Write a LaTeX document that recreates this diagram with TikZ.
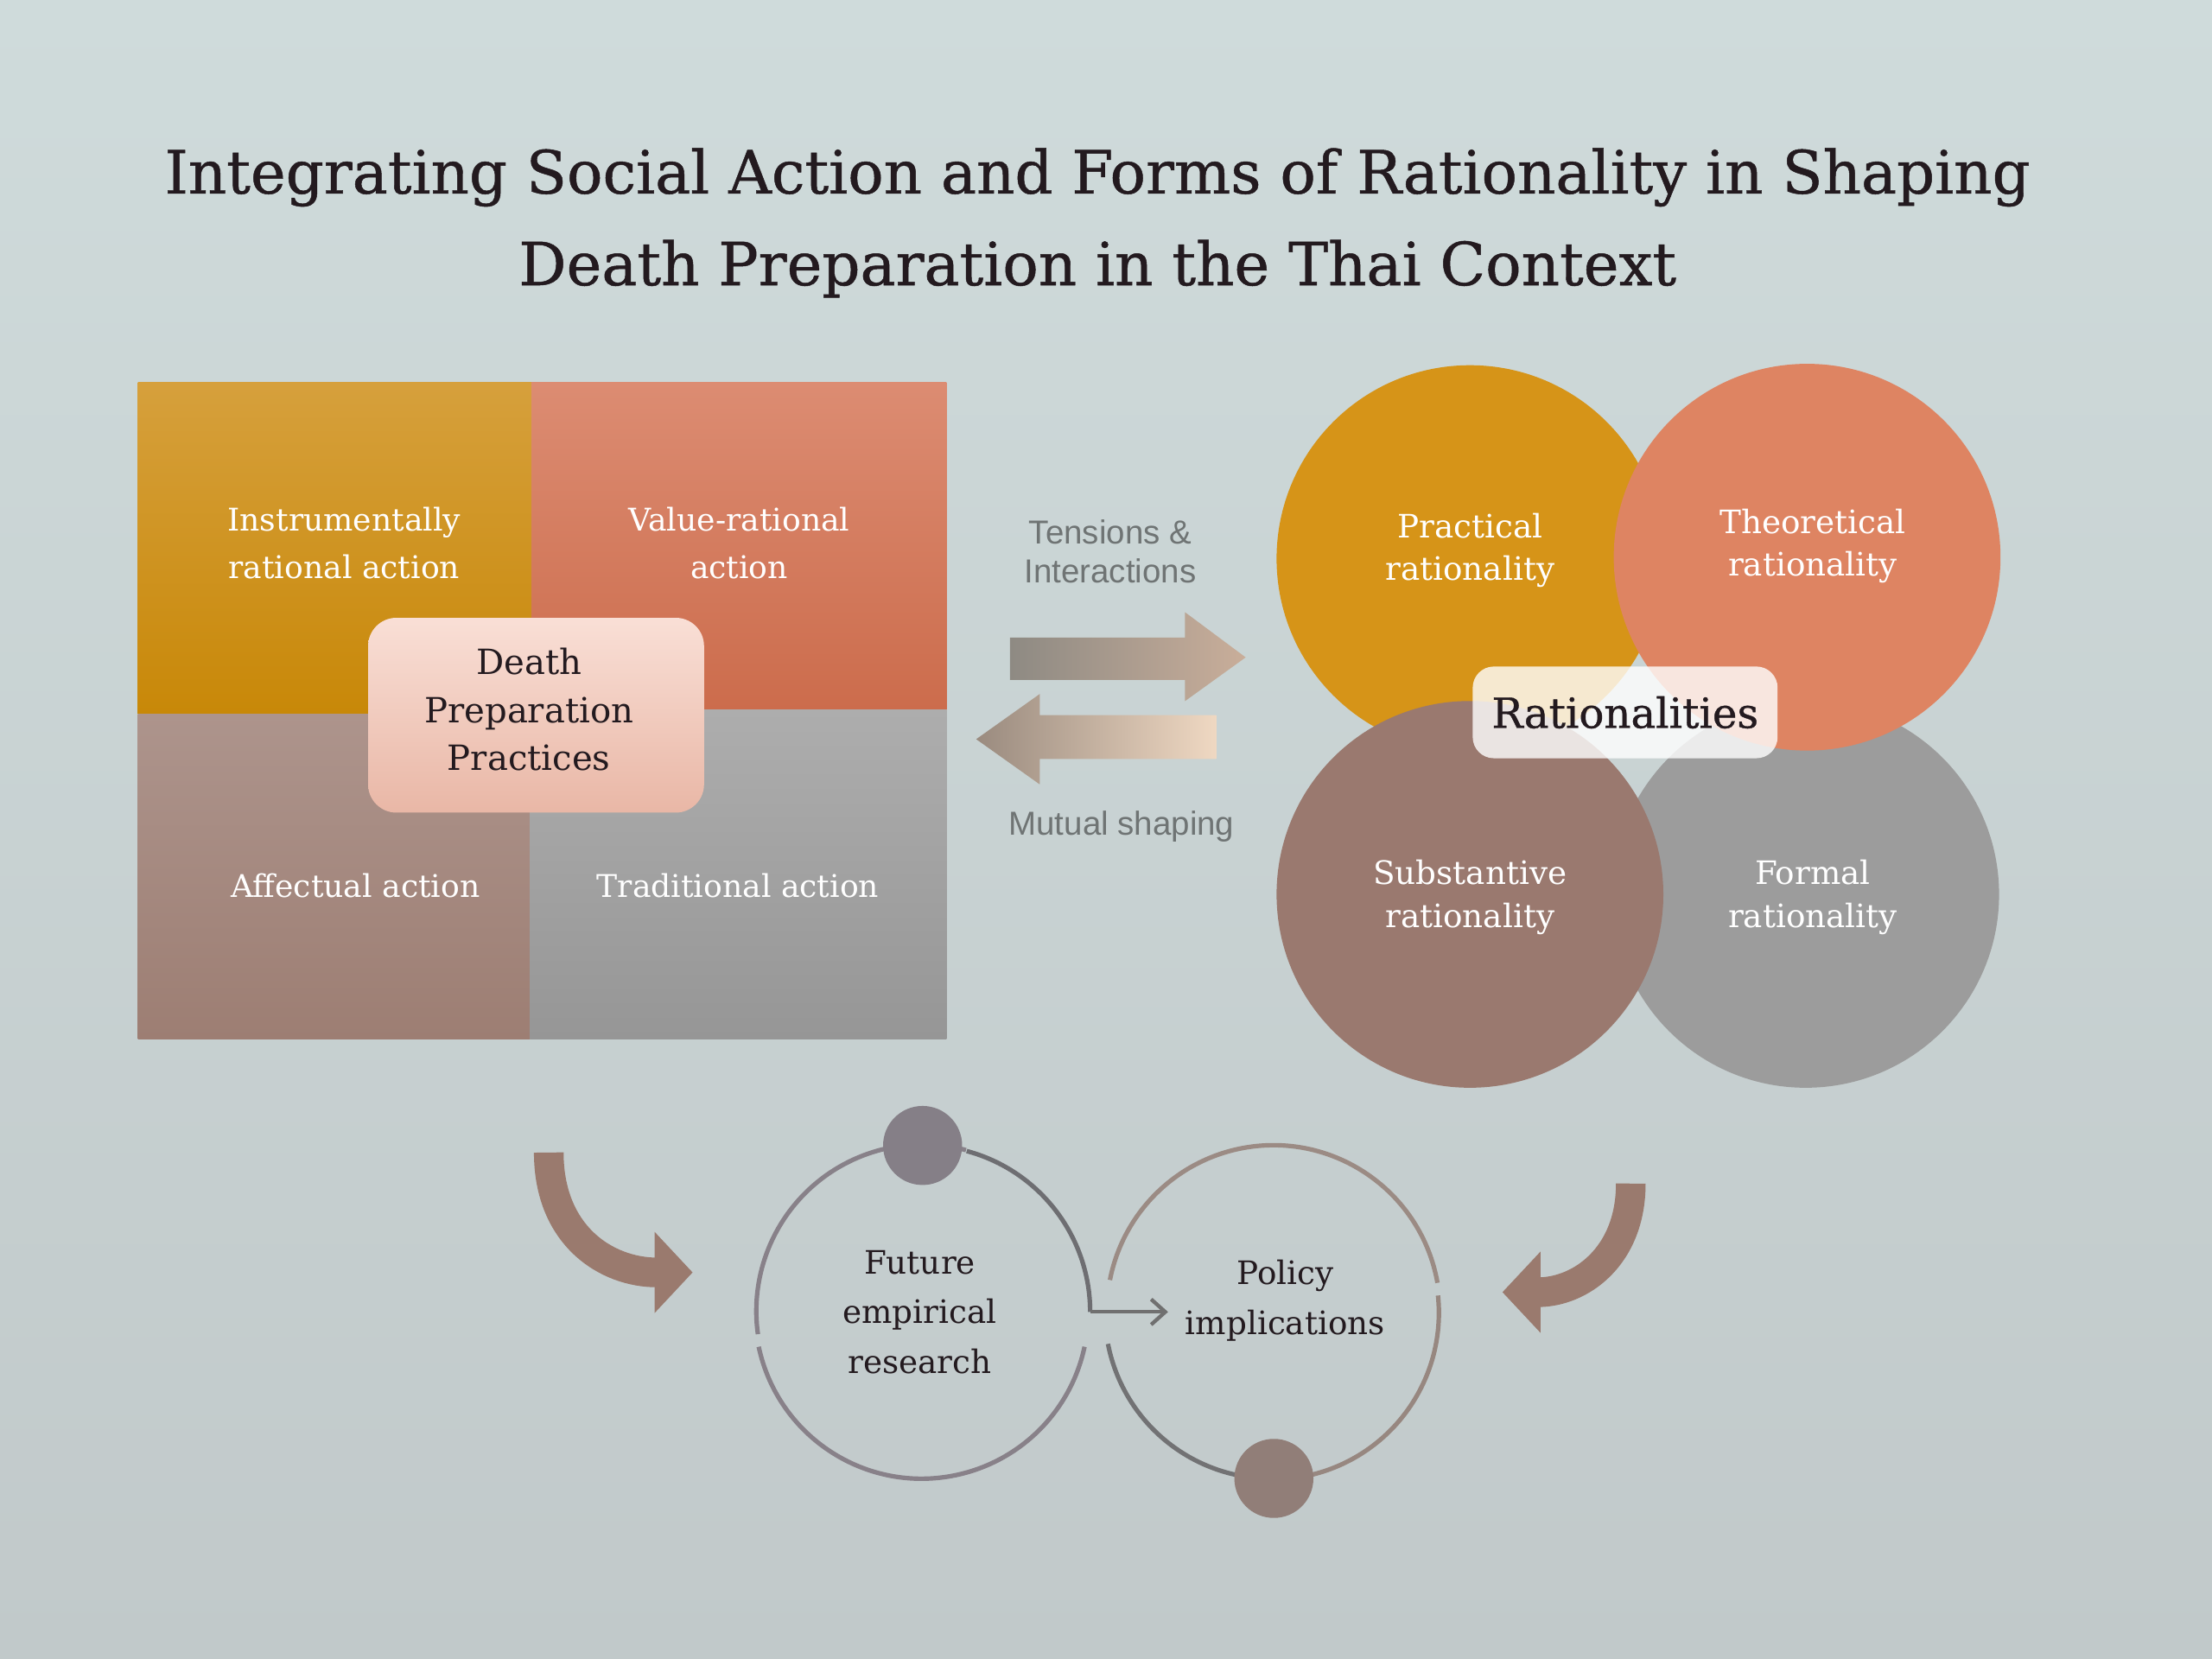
\documentclass[tikz,border=0pt]{standalone}
\usepackage{fontspec}
\setmainfont{DejaVu Serif}
\newfontfamily\heavyserif{DejaVu Serif}[FakeBold=0.7]
\newfontfamily\sanslabel{Liberation Sans}
\usepackage{tikz}
\usetikzlibrary{arrows.meta}

\definecolor{bgtop}{HTML}{CFDBDB}
\definecolor{bgbot}{HTML}{C1C9CA}
\definecolor{ink}{HTML}{231A1F}
\definecolor{greytext}{HTML}{6F7474}
\definecolor{brownarrow}{HTML}{9A7A6E}

\tikzstyle{quadbox} = [rectangle, anchor=south west, inner sep=0pt]
\tikzstyle{quadlabel} = [align=center, text=white, font=\fontsize{6.3}{9.7}\selectfont]
\tikzstyle{corebox} = [rectangle, rounded corners=0.2cm, minimum width=2.38cm, minimum height=1.38cm, top color={rgb,255:red,249;green,223;blue,214}, bottom color={rgb,255:red,233;green,183;blue,166}]
\tikzstyle{coretext} = [align=center, text=ink, font=\fontsize{7.0}{9.7}\selectfont]
\tikzstyle{ratio} = [circle, minimum size=2.74cm, inner sep=0pt]
\tikzstyle{ratiotext} = [align=center, text=white, font=\fontsize{6.5}{8.6}\selectfont]
\tikzstyle{ratiobox} = [rectangle, rounded corners=0.15cm, minimum width=2.16cm, minimum height=0.65cm, fill=white, fill opacity=0.8, text opacity=1, text=ink, font=\heavyserif\fontsize{8.4}{10}\selectfont]
\tikzstyle{sidetext} = [align=center, text=greytext, font=\sanslabel\fontsize{6.7}{7.7}\selectfont]
\tikzstyle{ring} = [circle, minimum size=2.36cm, inner sep=0pt]
\tikzstyle{ringline} = [line width=0.9pt]
\tikzstyle{ringtext} = [align=center, text=ink, font=\fontsize{6.5}{10}\selectfont]
\tikzstyle{dot} = [circle, minimum size=0.56cm, inner sep=0pt]
\tikzstyle{bigcurve} = [line width=0.21cm, draw=brownarrow, -{Triangle[length=0.27cm, width=0.56cm]}]

\begin{document}
\begin{tikzpicture}[x=0.01cm, y=0.01cm]

        % background
        \useasboundingbox (0,0) rectangle (1568,1176);
        \shade[top color=bgtop, bottom color=bgbot] (0,0) rectangle (1568,1176);

        \node (title) [align=center, text=ink, font=\heavyserif\fontsize{12}{18.5}\selectfont] at (778,1018) {Integrating Social Action and Forms of Rationality in Shaping\\Death Preparation in the Thai Context};

        % social action quadrants
        \node (instr) [quadbox, minimum width=2.79cm, minimum height=2.35cm, top color={rgb,255:red,214;green,160;blue,60}, bottom color={rgb,255:red,200;green,136;blue,8}] at (97,669) {};
        \node (value) [quadbox, minimum width=2.94cm, minimum height=2.32cm, top color={rgb,255:red,220;green,140;blue,114}, bottom color={rgb,255:red,204;green,108;blue,76}] at (376,672) {};
        \node (affect) [quadbox, minimum width=2.78cm, minimum height=2.30cm, top color={rgb,255:red,173;green,148;blue,140}, bottom color={rgb,255:red,157;green,126;blue,115}] at (97,439) {};
        \node (tradit) [quadbox, minimum width=2.95cm, minimum height=2.33cm, top color={rgb,255:red,173;green,173;blue,173}, bottom color={rgb,255:red,150;green,150;blue,150}] at (375,439) {};

        \node (instrtxt) [quadlabel] at (244,791) {Instrumentally\\rational action};
        \node (valuetxt) [quadlabel] at (524,791) {Value-rational\\action};
        \node (affecttxt) [quadlabel] at (252,548) {Affectual action};
        \node (tradittxt) [quadlabel] at (523,548) {Traditional action};

        \node (practices) [corebox] at (380,669) {};
        \node (practicestxt) [coretext] at (375,673) {Death\\Preparation\\Practices};

        % mutual arrows
        \node (tension) [sidetext] at (787,785) {Tensions \&\\Interactions};
        \node (mutual) [sidetext] at (795,590) {Mutual shaping};
        \shade[left color={rgb,255:red,142;green,138;blue,131}, right color={rgb,255:red,201;green,174;blue,154}] (716,694) -- (840,694) -- (840,679) -- (883,710) -- (840,742) -- (840,724) -- (716,724) -- cycle;
        \shade[left color={rgb,255:red,154;green,139;blue,127}, right color={rgb,255:red,239;green,216;blue,194}] (862,638) -- (737,638) -- (737,620) -- (692,652) -- (737,684) -- (737,669) -- (862,669) -- cycle;

        % rationalities
        \node (formal) [ratio, fill={rgb,255:red,156;green,156;blue,156}] at (1280,542) {};
        \node (practical) [ratio, fill={rgb,255:red,214;green,148;blue,24}] at (1042,780) {};
        \node (theoretical) [ratio, fill={rgb,255:red,222;green,132;blue,98}] at (1281,781) {};
        \node (substantive) [ratio, fill={rgb,255:red,154;green,121;blue,111}] at (1042,542) {};

        \node (practicaltxt) [ratiotext] at (1042,786) {Practical\\rationality};
        \node (theoreticaltxt) [ratiotext] at (1285,789) {Theoretical\\rationality};
        \node (substantivetxt) [ratiotext] at (1042,540) {Substantive\\rationality};
        \node (formaltxt) [ratiotext] at (1285,540) {Formal\\rationality};
        \node (rationalities) [ratiobox] at (1152,671) {Rationalities};

        % research and policy
        \node (ringL) [ring] at (654,246) {};
        \node (ringR) [ring] at (902,246) {};
        \draw[ringline, color={rgb,255:red,110;green,110;blue,114}] (ringL.0) arc[start angle=0, end angle=75, radius=1.18cm];
        \draw[ringline, color={rgb,255:red,136;green,129;blue,137}] (ringL.75) arc[start angle=75, end angle=188, radius=1.18cm];
        \draw[ringline, color={rgb,255:red,136;green,129;blue,137}] (ringL.192) arc[start angle=192, end angle=348, radius=1.18cm];
        \draw[ringline, color={rgb,255:red,155;green,139;blue,132}] (ringR.10) arc[start angle=10, end angle=169, radius=1.18cm];
        \draw[ringline, color={rgb,255:red,114;green,114;blue,116}] (ringR.191) arc[start angle=191, end angle=262, radius=1.18cm];
        \draw[ringline, color={rgb,255:red,151;green,135;blue,128}] (ringR.262) arc[start angle=262, end angle=366, radius=1.18cm];

        \node (dotL) [dot, fill={rgb,255:red,133;green,127;blue,135}] at (654,364) {};
        \node (dotR) [dot, fill={rgb,255:red,145;green,126;blue,120}] at (903,128) {};

        \node (futuretxt) [ringtext] at (652,246) {Future\\empirical\\research};
        \node (policytxt) [ringtext] at (911,254) {Policy\\implications};

        \coordinate (policyin) at (828,246);
        \draw[line width=0.75pt, color={rgb,255:red,112;green,112;blue,112}, -{Straight Barb[length=0.1cm, width=0.18cm]}] (ringL.east) -- (policyin);

        \coordinate (leftfeed) at (389,359);
        \coordinate (rightfeed) at (1156,337);
        \draw[bigcurve] (leftfeed) .. controls (389,300) and (430,274) .. (491,274);
        \draw[bigcurve] (rightfeed) .. controls (1156,285) and (1120,260) .. (1065,260);

    \end{tikzpicture}
\end{document}
